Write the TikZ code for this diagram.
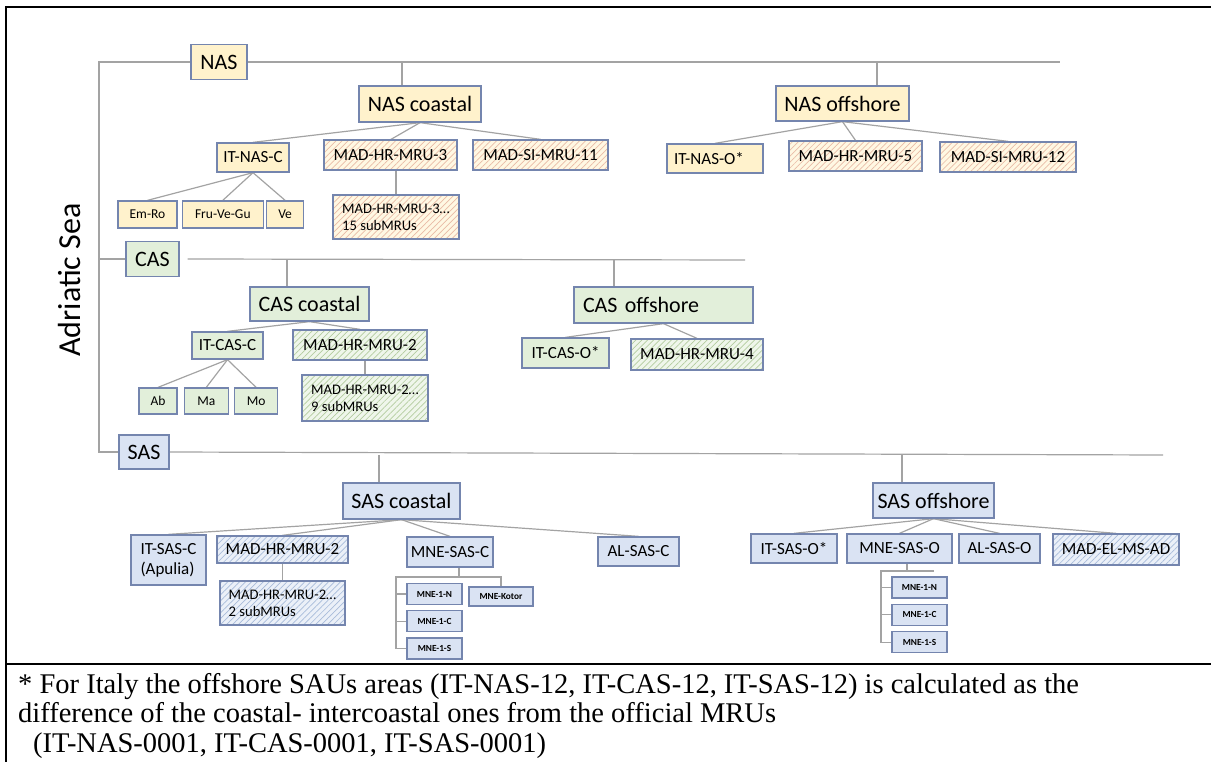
\documentclass[tikz,border=0pt]{standalone}
\usepackage{fontspec}
\setmainfont{Carlito}
\newfontfamily\notefont{Liberation Serif}
\usetikzlibrary{positioning,backgrounds,patterns.meta}
\definecolor{nasfill}{HTML}{FFF2CC}
\definecolor{casfill}{HTML}{E2EFDA}
\definecolor{sasfill}{HTML}{DAE3F3}
\definecolor{nasstripe}{HTML}{E9BBA6}
\definecolor{casstripe}{HTML}{B3CC9F}
\definecolor{sasstripe}{HTML}{A8BCDA}
\definecolor{edgeblue}{HTML}{7485AE}
\definecolor{linkgray}{HTML}{A3A3A3}

\begin{document}
\begin{tikzpicture}[x=1pt, y=-1pt,
  cell/.style={draw=edgeblue, line width=1.3pt, inner sep=0pt, align=center},
  nasbox/.style={cell, fill=nasfill},
  casbox/.style={cell, fill=casfill},
  sasbox/.style={cell, fill=sasfill},
  nashatched/.style={cell, preaction={fill=nasfill!55!white},
                     pattern={Lines[angle=45,distance=4.2pt,line width=0.7pt]}, pattern color=nasstripe},
  cashatched/.style={cell, preaction={fill=casfill!55!white},
                     pattern={Lines[angle=45,distance=4.2pt,line width=0.7pt]}, pattern color=casstripe},
  sashatched/.style={cell, preaction={fill=sasfill!55!white},
                     pattern={Lines[angle=45,distance=4.2pt,line width=0.7pt]}, pattern color=sasstripe},
  big/.style={font=\fontsize{22}{26}\selectfont},
  mid/.style={font=\fontsize{17}{20}\selectfont},
  small/.style={font=\fontsize{13.5}{16}\selectfont},
  sub/.style={font=\fontsize{14.6}{17}\selectfont, align=left},
  wee/.style={font=\bfseries\fontsize{9.3}{11}\selectfont},
  link/.style={draw=linkgray, line width=1.2pt},
  frame/.style={draw=black, line width=2.6pt},
  note/.style={font=\notefont\fontsize{28.5}{30}\selectfont, inner sep=0pt, anchor=base west}
]
\useasboundingbox (0,0) rectangle (1211,762);

% ── Frame and title ───────────────────────────────────────────
\draw[frame] (1211,7) -- (6,7) -- (6,762);
\draw[frame] (6,664) -- (1211,664);
\node[rotate=90, font=\fontsize{32}{38}\selectfont] (title) at (70,280) {Adriatic Sea};

% ── NAS ───────────────────────────────────────────────────────
\node[nasbox, big, minimum width=56, minimum height=35] (nas) at (219,62) {NAS};
\node[nasbox, big, minimum width=122, minimum height=36] (nascoast) at (420,104) {NAS coastal};
\node[nasbox, mid, minimum width=72, minimum height=29] (itnasc) at (253,157.5) {IT-NAS-C};
\node[nashatched, mid, minimum width=133, minimum height=30] (nashr3) at (390.5,155) {MAD-HR-MRU-3};
\node[nashatched, mid, minimum width=135, minimum height=30] (nassi11) at (540.5,155) {MAD-SI-MRU-11};
\node[nasbox, small, minimum width=59, minimum height=27] (emro) at (147.5,214.5) {Em-Ro};
\node[nasbox, small, minimum width=81, minimum height=27, right=4pt of emro] (fruvegu) {Fru-Ve-Gu};
\node[nasbox, small, minimum width=37, minimum height=27, right=2pt of fruvegu] (ve) {Ve};
\node[nashatched, sub, minimum width=126, minimum height=44] (nashr3sub) at (396,217) {MAD-HR-MRU-3…\\15 subMRUs};
\node[nasbox, big, minimum width=133, minimum height=35] (nasoff) at (842.5,103.5) {NAS offshore};
\node[nasbox, mid, minimum width=96, minimum height=29, text width=82, align=left] (itnaso) at (715,158.5) {IT-NAS-O*};
\node[nashatched, mid, minimum width=133, minimum height=30] (nashr5) at (855.5,156) {MAD-HR-MRU-5};
\node[nashatched, mid, minimum width=136, minimum height=30] (nassi12) at (1008,157) {MAD-SI-MRU-12};

% ── CAS ───────────────────────────────────────────────────────
\node[casbox, big, minimum width=53, minimum height=35] (cas) at (152.5,259) {CAS};
\node[casbox, big, minimum width=119, minimum height=34] (cascoast) at (309.5,304) {CAS coastal};
\node[casbox, mid, minimum width=71, minimum height=27] (itcasc) at (227.5,345.5) {IT-CAS-C};
\node[cashatched, mid, minimum width=134, minimum height=30] (cashr2) at (360,345) {MAD-HR-MRU-2};
\node[casbox, small, minimum width=38, minimum height=26] (ab) at (158,401) {Ab};
\node[casbox, small, minimum width=44, minimum height=26, right=6pt of ab] (ma) {Ma};
\node[casbox, small, minimum width=43, minimum height=26, right=5pt of ma] (mo) {Mo};
\node[cashatched, sub, minimum width=126, minimum height=46] (cashr2sub) at (365,398) {MAD-HR-MRU-2…\\9 subMRUs};
\node[casbox, big, minimum width=179, minimum height=36, text width=161, align=left] (casoff) at (663.5,305) {CAS offshore};
\node[casbox, mid, minimum width=87, minimum height=30] (itcaso) at (565.5,353) {IT-CAS-O*};
\node[cashatched, mid, minimum width=132, minimum height=31] (cashr4) at (697,354.5) {MAD-HR-MRU-4};

% ── SAS ───────────────────────────────────────────────────────
\node[sasbox, big, minimum width=50, minimum height=34] (sas) at (144,452) {SAS};
\node[sasbox, big, minimum width=117, minimum height=36] (sascoast) at (401.5,501) {SAS coastal};
\node[sasbox, mid, minimum width=75, minimum height=50, align=left] (itsasc) at (168.5,560) {IT-SAS-C\\(Apulia)};
\node[sashatched, mid, minimum width=131, minimum height=27] (sashr2) at (282.5,549.5) {MAD-HR-MRU-2};
\node[sashatched, sub, minimum width=125, minimum height=44] (sashr2sub) at (282.5,603) {MAD-HR-MRU-2…\\2 subMRUs};
\node[sasbox, mid, minimum width=86, minimum height=30] (mnesasc) at (450,552) {MNE-SAS-C};
\node[sasbox, mid, minimum width=81, minimum height=29] (alsasc) at (638.5,551.5) {AL-SAS-C};
\node[sasbox, wee, minimum width=55, minimum height=21] (mnec1n) at (434.5,594) {MNE-1-N};
\node[sasbox, wee, minimum width=55, minimum height=21, below=5pt of mnec1n] (mnec1c) {MNE-1-C};
\node[sasbox, wee, minimum width=55, minimum height=21, below=5pt of mnec1c] (mnec1s) {MNE-1-S};
\node[sasbox, wee, minimum width=64, minimum height=19] (mnekotor) at (501,596.5) {MNE-Kotor};
\node[sasbox, big, minimum width=121, minimum height=35] (sasoff) at (933.5,500.5) {SAS offshore};
\node[sasbox, mid, minimum width=86, minimum height=29] (itsaso) at (794,548.5) {IT-SAS-O*};
\node[sasbox, mid, minimum width=105, minimum height=29] (mnesaso) at (899.5,548.5) {MNE-SAS-O};
\node[sasbox, mid, minimum width=81, minimum height=29] (alsaso) at (999.5,548.5) {AL-SAS-O};
\node[sashatched, mid, minimum width=126, minimum height=31] (madelms) at (1116,549.5) {MAD-EL-MS-AD};
\node[sasbox, wee, minimum width=55, minimum height=21] (mneo1n) at (919.5,587.5) {MNE-1-N};
\node[sasbox, wee, minimum width=55, minimum height=21, below=5pt of mneo1n] (mneo1c) {MNE-1-C};
\node[sasbox, wee, minimum width=55, minimum height=21, below=5pt of mneo1c] (mneo1s) {MNE-1-S};

% ── Footnote ──────────────────────────────────────────────────
\node[note] (note1) at (18,693) {* For Italy the offshore SAUs areas (IT-NAS-12, IT-CAS-12, IT-SAS-12) is calculated as the};
\node[note] (note2) at (18,722) {difference of the coastal- intercoastal ones from the official MRUs};
\node[note] (note3) at (33,752) {(IT-NAS-0001, IT-CAS-0001, IT-SAS-0001)};

% ── Connectors ────────────────────────────────────────────────
\coordinate (spine) at (99,62);
\coordinate (nasend) at (1060,62);
\coordinate (casend) at (745,260);
\coordinate (sasend) at (1163,455);
\coordinate (nasctop) at (402,86);
\coordinate (nasotop) at (877,86);
\coordinate (casctop) at (287,287);
\coordinate (casotop) at (614,287);
\coordinate (sasctop) at (379,483);
\coordinate (sasotop) at (902,483);
\coordinate (mnecfork) at (459,577);
\coordinate (mnecleft) at (396,577);
\coordinate (mneofork) at (907,571);
\coordinate (mneoleft) at (881,571);
\coordinate (mneoright) at (934,571);

\begin{scope}[on background layer]
  \draw[link] (nas.west) -- (spine) |- (sas.west);
  \draw[link] (nas.east) -- (nasend);
  \draw[link] (cas.west -| spine) -- (cas.west);
  \draw[link] ([xshift=8pt]cas.east) -- (casend);
  \draw[link] (sas.east) -- (sasend);
  \draw[link] (nasctop |- nasend) -- (nasctop);
  \draw[link] (nasotop |- nasend) -- (nasotop);
  \draw[link] (casctop |- casend) -- (casctop);
  \draw[link] (casotop |- casend) -- (casotop);
  \draw[link] (sasctop |- sasend) -- (sasctop);
  \draw[link] (sasotop |- sasend) -- (sasotop);
  % NAS
  \draw[link] (nascoast.south) -- (itnasc.north);
  \draw[link] (nascoast.south) -- (nashr3.north);
  \draw[link] (nascoast.south) -- (nassi11.north);
  \draw[link] (itnasc.south) -- (emro.north);
  \draw[link] (itnasc.south) -- (fruvegu.north);
  \draw[link] (itnasc.south) -- (ve.north);
  \draw[link] (nashr3sub.north |- nashr3.south) -- (nashr3sub.north);
  \draw[link] (nasoff.south) -- (itnaso.north);
  \draw[link] (nasoff.south) -- (nashr5.north);
  \draw[link] (nasoff.south) -- (nassi12.north);
  % CAS
  \draw[link] (cascoast.south) -- (itcasc.north);
  \draw[link] (cascoast.south) -- (cashr2.north);
  \draw[link] (itcasc.south) -- (ab.north);
  \draw[link] (itcasc.south) -- (ma.north);
  \draw[link] (itcasc.south) -- (mo.north);
  \draw[link] (cashr2sub.north |- cashr2.south) -- (cashr2sub.north);
  \draw[link] (casoff.south) -- (itcaso.north);
  \draw[link] (casoff.south) -- (cashr4.north);
  % SAS
  \draw[link] (sascoast.south) -- (itsasc.north);
  \draw[link] (sascoast.south) -- (sashr2.north);
  \draw[link] (sascoast.south) -- (mnesasc.north);
  \draw[link] (sascoast.south) -- (alsasc.north);
  \draw[link] (sashr2.south) -- (sashr2sub.north);
  \draw[link] (mnecfork |- mnesasc.south) -- (mnecfork);
  \draw[link] (mnekotor.north) |- (mnecleft) |- (mnec1s.west);
  \draw[link] (mnec1n.west -| mnecleft) -- (mnec1n.west);
  \draw[link] (mnec1c.west -| mnecleft) -- (mnec1c.west);
  \draw[link] (sasoff.south) -- (itsaso.north);
  \draw[link] (sasoff.south) -- (mnesaso.north);
  \draw[link] (sasoff.south) -- (alsaso.north);
  \draw[link] (sasoff.south) -- (madelms.north);
  \draw[link] (mneofork |- mnesaso.south) -- (mneofork);
  \draw[link] (mneoright) -- (mneoleft) |- (mneo1s.west);
  \draw[link] (mneo1n.west -| mneoleft) -- (mneo1n.west);
  \draw[link] (mneo1c.west -| mneoleft) -- (mneo1c.west);
\end{scope}
\end{tikzpicture}
\end{document}
